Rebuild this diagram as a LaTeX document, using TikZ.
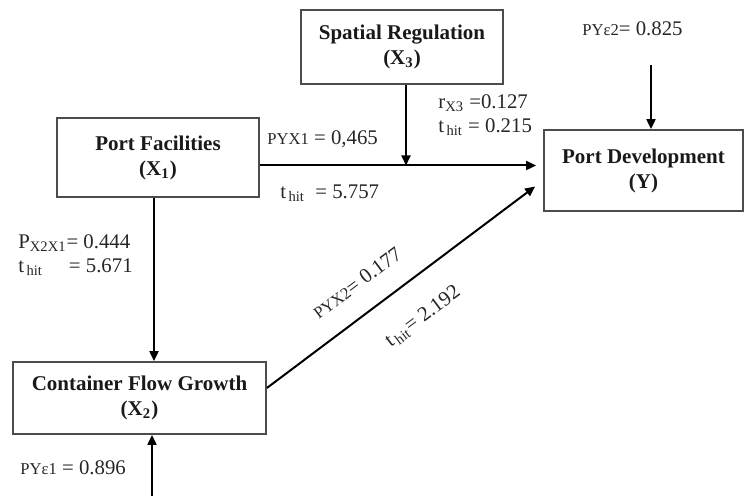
\documentclass[tikz,border=0pt]{standalone}
\usepackage{fontspec}
\setmainfont{Liberation Serif}
\usetikzlibrary{arrows.meta, positioning}
\newcommand{\sm}[1]{{\fontsize{8.3}{9}\selectfont #1}}
\newcommand{\thit}{t\textsubscript{\,hit}}

\begin{document}
\begin{tikzpicture}[
  x=0.5pt, y=-0.5pt,
  var/.style={draw=black!70, line width=0.9pt, align=center, inner sep=0pt,
              text=black!90, font=\fontsize{10.5}{12.5}\selectfont\bfseries},
  lbl/.style={font=\fontsize{10.4}{12}\selectfont, text=black!85,
              inner sep=1pt, align=left},
  >={Triangle[length=5pt,width=4.5pt]},
  arr/.style={->, line width=1pt}
]
\useasboundingbox (0,0) rectangle (745,496);
% variables
\node[var, minimum width=101pt, minimum height=37pt] (x3) at (402,47)
  {Spatial Regulation\\(X\textsubscript{3})};
\node[var, minimum width=101pt, minimum height=39.5pt] (x1) at (158,157.5)
  {Port Facilities\\(X\textsubscript{1})};
\node[var, minimum width=126.5pt, minimum height=36pt] (x2) at (139.5,398)
  {Container Flow Growth\\(X\textsubscript{2})};
\node[var, minimum width=99.5pt, minimum height=40.5pt] (y) at (643.5,170.5)
  {Port Development\\(Y)};
% paths
\draw[arr] ([yshift=-4pt]x1.east) -- coordinate[pos=0.5] (mid)
  ([xshift=-3.5pt,yshift=2.5pt]y.west);
\coordinate (x3a) at ([xshift=2pt]x3.south);
\draw[arr] (x3a) -- (x3a |- mid);
\coordinate (x1a) at ([xshift=-2pt]x1.south);
\draw[arr] (x1a) -- (x1a |- x2.north);
\draw[arr] ([yshift=5pt]x2.east) -- ([xshift=-4pt,yshift=-8pt]y.west);
% residuals
\coordinate (e1) at (152,496);
\draw[arr] (e1) -- (e1 |- x2.south);
\coordinate (e2) at (651,65);
\draw[arr] (e2) -- (e2 |- y.north);
% coefficients
\node[lbl, anchor=west] (pye2) at (580,29) {\sm{PYε2}= 0.825};
\node[lbl, anchor=west] (pyx1) at (265,139) {\sm{PYX1} = 0,465};
\node[lbl, anchor=west] (t1) at (278,193) {\thit\ \ = 5.757};
\node[lbl, anchor=west] (rx3) at (436,115.5)
  {r\textsubscript{X3} =0.127\\\thit{} = 0.215};
\node[lbl, anchor=west] (px2x1) at (16,255)
  {P\textsubscript{X2X1}= 0.444\\\thit\quad\ = 5.671};
\node[lbl, anchor=west] (pye1) at (18,468) {\sm{PYε1} = 0.896};
\node[lbl, rotate=36.8] (pyx2) at (357,283) {\sm{PYX2}= 0.177};
\node[lbl, rotate=36.8] (t2) at (423,317) {\thit= 2.192};
\end{tikzpicture}
\end{document}
